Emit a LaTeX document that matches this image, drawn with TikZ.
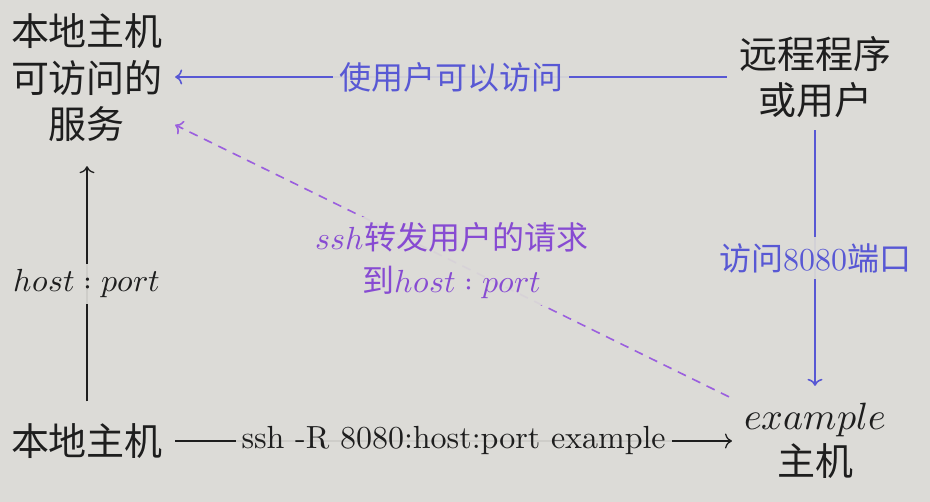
\documentclass[tikz,border=0pt]{standalone}
\usepackage{unicode-math}
\setmainfont{lmroman10-regular.otf}[ItalicFont=lmroman10-italic.otf]
\setmathfont{Latin Modern Math}
\newfontfamily\cjk{Noto Sans CJK SC}
\usetikzlibrary{arrows.meta}
\definecolor{bgc}{RGB}{220,219,215}
\definecolor{ink}{RGB}{30,30,30}
\definecolor{bl}{RGB}{88,88,212}
\definecolor{pu}{RGB}{155,95,222}
\definecolor{put}{RGB}{135,75,210}
\begin{document}
\begin{tikzpicture}[x=1pt,y=-1pt,
  box/.style={align=center, inner sep=12pt, text=ink, font=\fontsize{38}{46.5}\selectfont\cjk},
  lab/.style={fill=bgc, fill opacity=0.93, text opacity=1, inner sep=6pt, font=\fontsize{32}{43}\selectfont, align=center},
  tip/.style={-{Computer Modern Rightarrow[length=7pt,width=15pt]}},
  blueline/.style={draw=bl, line width=1.6pt, tip},
  blackline/.style={draw=ink, line width=1.3pt, tip},
  purpleline/.style={draw=pu, line width=1.6pt, dash pattern=on 9pt off 7pt, tip}
]
\fill[bgc] (0,0) rectangle (930,502);
\useasboundingbox (0,0) rectangle (930,502);
\node[box] (A) at (87,78) {本地主机\\可访问的\\服务};
\node[box] (B) at (815,77) {远程程序\\或用户};
\node[box] (C) at (87,441) {本地主机};
\node[box] (D) at (815,441) {$example$\\主机};

\draw[blueline] (B.west) -- (B.west -| A.east)
  node[lab, midway, text=bl] {{\cjk 使用户可以访问}};
\draw[blueline] (B.south) -- ([yshift=5pt]D.north)
  node[lab, midway, text=bl] {{\cjk 访问}8080{\cjk 端口}};
\draw[blackline] ([yshift=10pt]C.north) -- ([yshift=-12pt]C.north |- A.south)
  node[lab, midway, text=ink] {$host:port$};
\draw[blackline] (C.east) -- (C.east -| D.west)
  node[lab, midway, text=ink] {ssh -R 8080:host:port example};
\draw[purpleline] ([xshift=-3pt,yshift=-6pt]D.north west) -- (A.-28)
  node[lab, midway, text=put] {$ssh${\cjk 转发用户的请求}\\{\cjk 到}$host:port$};
\end{tikzpicture}
\end{document}
